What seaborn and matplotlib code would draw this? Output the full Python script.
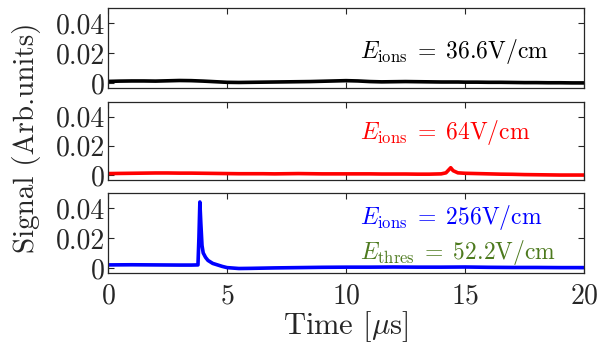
import numpy as np
import pandas as pd
import seaborn as sns
import matplotlib
matplotlib.use("Agg")
import matplotlib.pyplot as plt

# time axis (microseconds) for the slow traces
t_slow = [0, 0.5, 1, 1.5, 2, 2.5, 3, 3.5, 4, 4.5, 5, 5.5, 6, 6.5, 7, 7.5, 8, 8.5,
          9, 9.5, 10, 10.5, 11, 11.5, 12, 12.5, 13, 13.5, 14, 14.2, 14.4, 14.5,
          14.7, 15, 15.5, 16, 16.5, 17, 17.5, 18, 18.5, 19, 19.5, 20]
sig_36 = [0.0010, 0.0012, 0.0013, 0.0013, 0.0012, 0.0014, 0.0016, 0.0015, 0.0012,
          0.0008, 0.0004, 0.0003, 0.0004, 0.0005, 0.0006, 0.0007, 0.0008, 0.0009,
          0.0011, 0.0013, 0.0015, 0.0013, 0.0009, 0.0007, 0.0008, 0.0009, 0.0008,
          0.0007, 0.0006, 0.0006, 0.0006, 0.0006, 0.0006, 0.0005, 0.0005, 0.0004,
          0.0004, 0.0003, 0.0002, 0.0002, 0.0001, 0.0001, 0.0000, 0.0000]
sig_64 = [0.0010, 0.0011, 0.0012, 0.0013, 0.0014, 0.0014, 0.0013, 0.0013, 0.0012,
          0.0011, 0.0010, 0.0009, 0.0009, 0.0009, 0.0008, 0.0009, 0.0010, 0.0009,
          0.0008, 0.0008, 0.0008, 0.0008, 0.0008, 0.0007, 0.0007, 0.0007, 0.0006,
          0.0006, 0.0008, 0.0015, 0.0050, 0.0030, 0.0015, 0.0012, 0.0010, 0.0008,
          0.0006, 0.0005, 0.0003, 0.0002, 0.0001, 0.0000, 0.0000, 0.0000]

t_fast = [0, 1, 2, 3, 3.5, 3.78, 3.82, 3.86, 3.9, 3.95, 4.0, 4.1, 4.2, 4.4, 4.6,
          4.8, 5.0, 5.5, 6, 7, 8, 9, 10, 11, 12, 13, 14, 15, 16, 17, 18, 19, 20]
sig_256 = [0.0020, 0.0021, 0.0020, 0.0019, 0.0019, 0.0020, 0.0200, 0.0440, 0.0300,
           0.0150, 0.0100, 0.0070, 0.0050, 0.0030, 0.0020, 0.0010, 0.0002, -0.0004,
           -0.0003, 0.0000, 0.0002, 0.0004, 0.0005, 0.0005, 0.0006, 0.0005, 0.0005,
           0.0006, 0.0004, 0.0003, 0.0003, 0.0002, 0.0002]

labels = [r"$E_{\rm ions}\;=\;36.6{\rm V/cm}$", r"$E_{\rm ions}\;=\;64{\rm V/cm}$",
          r"$E_{\rm ions}\;=\;256{\rm V/cm}$"]
thres_label = r"$E_{\rm thres}\;=\;52.2{\rm V/cm}$"
y_ticks = [0, 0.02, 0.04]
y_ticklabels = ["0", "0.02", "0.04"]
x_ticks = [0, 5, 10, 15, 20]

sns.set_style("ticks")
plt.rcParams["font.family"] = ["cmr10", "DejaVu Serif"]
plt.rcParams["mathtext.fontset"] = "cm"
plt.rcParams["axes.formatter.use_mathtext"] = True
plt.rcParams["axes.unicode_minus"] = False

dark = "#262626"
fig = plt.figure(figsize=(6.10, 3.47), dpi=100)
W, H = 610, 347
left, right = 108 / W, 584 / W
panels = [(8, 88), (102, 180), (193, 273)]
axes = []
for top, bot in panels:
    axes.append(fig.add_axes([left, 1 - bot / H, right - left, (bot - top) / H]))

traces = [
    pd.DataFrame({"t": t_slow, "s": sig_36}),
    pd.DataFrame({"t": t_slow, "s": sig_64}),
    pd.DataFrame({"t": t_fast, "s": sig_256}),
]
colors = ["black", "#ff0000", "#0000ff"]
text_pos = [(0.53, 0.46), (0.53, 0.615), (0.53, 0.69)]

for ax, df, c, lab, (tx, ty) in zip(axes, traces, colors, labels, text_pos):
    sns.lineplot(data=df, x="t", y="s", ax=ax, color=c, linewidth=2.6)
    ax.set_xlim(0, 20)
    ax.set_ylim(-0.0034, 0.05)
    ax.set_yticks(y_ticks)
    ax.set_yticklabels(y_ticklabels)
    ax.set_xticks(x_ticks)
    ax.tick_params(direction="in", top=True, right=True, length=4, width=0.8,
                   color=dark, labelcolor=dark, labelsize=20)
    ax.tick_params(axis="y", pad=2)
    ax.tick_params(axis="x", pad=7)
    for sp in ax.spines.values():
        sp.set_color(dark)
        sp.set_linewidth(0.9)
    ax.set_xlabel("")
    ax.set_ylabel("")
    ax.text(tx, ty, lab, transform=ax.transAxes, color=c, fontsize=17,
            va="center", ha="left")

for ax in axes[:2]:
    ax.tick_params(labelbottom=False)

axes[2].text(0.53, 0.26, thres_label, transform=axes[2].transAxes,
             color="#4d7a1e", fontsize=17, va="center", ha="left")
axes[2].set_xlabel(r"Time [$\mu$s]", fontsize=22, color=dark, labelpad=0)
fig.text(27 / W, 1 - 138 / H, "Signal (Arb.units)", rotation=90, fontsize=21,
         color=dark, ha="center", va="center")

fig.savefig("out.png", dpi=100)
